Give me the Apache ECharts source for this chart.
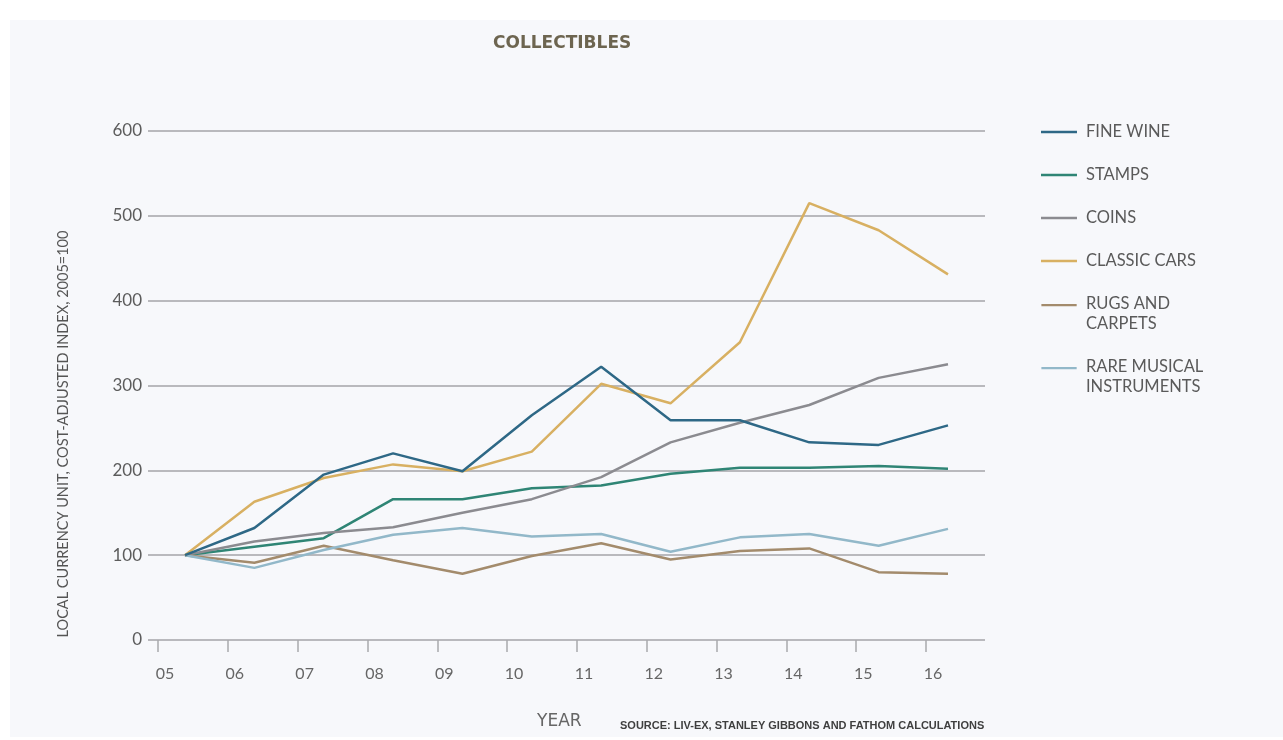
<!DOCTYPE html>
<html>
<head>
<meta charset="utf-8">
<title>Collectibles</title>
<script src="https://cdn.jsdelivr.net/npm/echarts@6/dist/echarts.min.js"></script>
<style>
  html, body { margin: 0; padding: 0; background: #ffffff; }
  #panel { position: absolute; left: 10px; top: 20px; width: 1273px; height: 717px; background: #f7f8fb; }
  #chart { position: absolute; left: 0; top: 0; width: 1283px; height: 740px; }
</style>
</head>
<body>
<div id="panel"></div>
<div id="chart"></div>
<script>
// Years on the horizontal axis (two-digit labels)
const years = ['05', '06', '07', '08', '09', '10', '11', '12', '13', '14', '15', '16'];

// Cost-adjusted index, 2005 = 100
const fineWine     = [100, 132, 195, 220, 199, 265, 322, 259, 259, 233, 230, 253];
const stamps       = [100, 110, 120, 166, 166, 179, 182, 196, 203, 203, 205, 202];
const coins        = [100, 116, 126, 133, 150, 166, 192, 233, 256, 277, 309, 325];
const classicCars  = [100, 163, 191, 207, 199, 222, 302, 279, 351, 515, 483, 431];
const rugsCarpets  = [100,  91, 111,  94,  78,  99, 114,  95, 105, 108,  80,  78];
const rareMusical  = [100,  85, 106, 124, 132, 122, 125, 104, 121, 125, 111, 131];

const yTicks = [0, 100, 200, 300, 400, 500, 600];

const seriesNames = ['FINE WINE', 'STAMPS', 'COINS', 'CLASSIC CARS', 'RUGS AND\nCARPETS', 'RARE MUSICAL\nINSTRUMENTS'];
const seriesValues = [fineWine, stamps, coins, classicCars, rugsCarpets, rareMusical];
const seriesColors = ['#2e6886', '#2f8575', '#8b8b90', '#d8b062', '#a38b6c', '#92b8c9'];

const FONT = 'Lato, "Open Sans", sans-serif';

// Legend swatches: a short bar, placed beside the first text line
const iconSingle = 'path://M0,0H0.01V0.01H0Z M0,8.8H36V11.2H0Z M40,20H40.01V20.01H40Z';
const iconDouble = 'path://M0,-0.4H0.01V-0.39H0Z M0,-0.4H36V2H0Z M40,20H40.01V20.01H40Z';

const chart = echarts.init(document.getElementById('chart'), null, { renderer: 'canvas' });

const option = {
  backgroundColor: 'transparent',
  animation: false,
  grid: [
    // frame: horizontal gridlines and value labels
    { left: 148, right: 298, top: 131, bottom: 100 },
    // data: first and last year inset from the frame
    { left: 185, right: 335, top: 131, bottom: 100 },
    // year ticks and labels
    { left: 158, right: 357, top: 131, bottom: 100 }
  ],
  xAxis: [
    { gridIndex: 0, type: 'category', data: years, show: false },
    { gridIndex: 1, type: 'category', data: years, boundaryGap: false, show: false },
    {
      gridIndex: 2, type: 'category', data: years, boundaryGap: false,
      axisLine: { show: false },
      axisTick: { show: true, alignWithLabel: true, length: 12, lineStyle: { color: '#a9a9ad', width: 1.5 } },
      axisLabel: { margin: 26, color: '#666', fontFamily: FONT, fontSize: 16, padding: [0, 0, 0, 14] },
      splitLine: { show: false }
    }
  ],
  yAxis: [
    {
      gridIndex: 0, type: 'value', min: 0, max: 600, interval: 100,
      axisLine: { show: false },
      axisTick: { show: false },
      axisLabel: {
        margin: 6, color: '#5c5c5c', fontFamily: FONT, fontSize: 17,
        formatter: v => (yTicks.indexOf(v) >= 0 ? String(v) : '')
      },
      splitLine: { show: true, lineStyle: { color: '#b9b9bd', width: 2 } }
    },
    { gridIndex: 1, type: 'value', min: 0, max: 600, interval: 100, show: false, splitLine: { show: false } },
    { gridIndex: 2, type: 'value', min: 0, max: 600, interval: 100, show: false, splitLine: { show: false } }
  ],
  legend: {
    orient: 'vertical',
    left: 1041,
    top: 122,
    padding: 0,
    itemGap: 23,
    itemWidth: 40,
    itemHeight: 20,
    selectedMode: false,
    itemStyle: { borderWidth: 0 },
    textStyle: { color: '#5a5a5a', fontFamily: FONT, fontSize: 16.5, lineHeight: 20 },
    data: seriesNames.map(n => ({ name: n, icon: n.indexOf('\n') >= 0 ? iconDouble : iconSingle }))
  },
  series: seriesNames.map((name, i) => ({
    name: name,
    type: 'line',
    xAxisIndex: 1,
    yAxisIndex: 1,
    data: seriesValues[i],
    showSymbol: false,
    symbol: 'none',
    color: seriesColors[i],
    lineStyle: { color: seriesColors[i], width: 2.5 },
    z: 3 + (i === 0 ? 3 : i === 3 ? 2 : 0)
  })),
  graphic: [
    {
      type: 'text', left: 493, top: 35,
      style: { text: 'COLLECTIBLES', fill: '#6d6550', font: 'bold 17px "DejaVu Sans", sans-serif' }
    },
    {
      type: 'text', x: 63, y: 434, rotation: Math.PI / 2,
      style: {
        text: 'LOCAL CURRENCY UNIT, COST-ADJUSTED INDEX, 2005=100',
        fill: '#555', font: '14.5px ' + FONT, align: 'center', verticalAlign: 'middle'
      }
    },
    {
      type: 'text', left: 537, top: 713,
      style: { text: 'YEAR', fill: '#666', font: '17px "DejaVu Sans", sans-serif' }
    },
    {
      type: 'text', left: 620, top: 720,
      style: {
        text: 'SOURCE: LIV-EX, STANLEY GIBBONS AND FATHOM CALCULATIONS',
        fill: '#3f3f3f', font: 'bold 11px "Liberation Sans", Arial, sans-serif'
      }
    }
  ]
};

chart.setOption(option);
</script>
</body>
</html>
